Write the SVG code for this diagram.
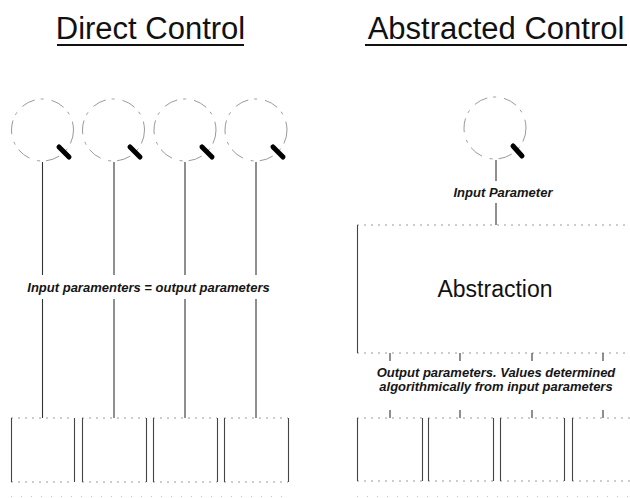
<svg xmlns="http://www.w3.org/2000/svg" width="630" height="498" viewBox="0 0 630 498">
  <defs>
    <style>
      .title { font-family: "Liberation Sans", Arial, sans-serif; font-size: 31px; fill: #111; text-anchor: middle; }
      .label { font-family: "Liberation Sans", Arial, sans-serif; font-size: 13px; font-style: italic; font-weight: bold; fill: #151515; text-anchor: middle; }
      .big { font-family: "Liberation Sans", Arial, sans-serif; font-size: 23px; fill: #111; text-anchor: middle; }
      .ul { stroke: #111; stroke-width: 2; }
      .dial { fill: none; stroke: #9a9a9a; stroke-width: 1; stroke-dasharray: 14 6 3 8; }
      .pointer { stroke: #000; stroke-width: 5; stroke-linecap: round; }
      .wire { stroke: #333; stroke-width: 1.1; fill: none; }
      .side { stroke: #444; stroke-width: 1.1; fill: none; }
      .edge { stroke: #9a9a9a; stroke-width: 1; stroke-dasharray: 2 5; fill: none; }
      .faint { stroke: #c4c4c4; stroke-width: 1; stroke-dasharray: 1 9; fill: none; }
    </style>
  </defs>

  <!-- headings -->
  <g id="title-direct">
    <text class="title" x="150.5" y="39">Direct Control</text>
    <line class="ul" x1="57" y1="45" x2="244" y2="45"/>
  </g>
  <g id="title-abstracted">
    <text class="title" x="496" y="39">Abstracted Control</text>
    <line class="ul" x1="365" y1="45" x2="627" y2="45"/>
  </g>

  <!-- direct control: four dials -->
  <g id="dial-1">
    <circle class="dial" cx="42.5" cy="130" r="31"/>
    <line class="pointer" x1="59" y1="147" x2="69" y2="157"/>
  </g>
  <g id="dial-2">
    <circle class="dial" cx="113.5" cy="130" r="31"/>
    <line class="pointer" x1="130" y1="147" x2="140" y2="157"/>
  </g>
  <g id="dial-3">
    <circle class="dial" cx="185" cy="130" r="31"/>
    <line class="pointer" x1="202" y1="147" x2="212" y2="157"/>
  </g>
  <g id="dial-4">
    <circle class="dial" cx="256" cy="130" r="31"/>
    <line class="pointer" x1="273" y1="147" x2="283" y2="157"/>
  </g>

  <!-- direct control: four outputs -->
  <g id="out-d1">
    <line class="edge" x1="11" y1="418" x2="74" y2="418"/>
    <line class="edge" x1="11" y1="482" x2="74" y2="482"/>
    <line class="side" x1="11.5" y1="418" x2="11.5" y2="482"/>
    <line class="side" x1="74.5" y1="418" x2="74.5" y2="482"/>
  </g>
  <g id="out-d2">
    <line class="edge" x1="82" y1="418" x2="146" y2="418"/>
    <line class="edge" x1="82" y1="482" x2="146" y2="482"/>
    <line class="side" x1="82.5" y1="418" x2="82.5" y2="482"/>
    <line class="side" x1="146.5" y1="418" x2="146.5" y2="482"/>
  </g>
  <g id="out-d3">
    <line class="edge" x1="153" y1="418" x2="217" y2="418"/>
    <line class="edge" x1="153" y1="482" x2="217" y2="482"/>
    <line class="side" x1="153.5" y1="418" x2="153.5" y2="482"/>
    <line class="side" x1="217.5" y1="418" x2="217.5" y2="482"/>
  </g>
  <g id="out-d4">
    <line class="edge" x1="224" y1="418" x2="288" y2="418"/>
    <line class="edge" x1="224" y1="482" x2="288" y2="482"/>
    <line class="side" x1="224.5" y1="418" x2="224.5" y2="482"/>
    <line class="side" x1="288.5" y1="418" x2="288.5" y2="482"/>
  </g>
  <line class="faint" x1="11" y1="496.5" x2="288" y2="496.5"/>

  <!-- abstracted control: single dial -->
  <g id="dial-a">
    <circle class="dial" cx="495" cy="128" r="31"/>
    <line class="pointer" x1="513" y1="146" x2="522" y2="156"/>
  </g>

  <!-- abstraction block -->
  <g id="abstraction">
    <line class="edge" x1="357" y1="225" x2="626" y2="225"/>
    <line class="edge" x1="357" y1="353" x2="626" y2="353"/>
    <line class="side" x1="357.5" y1="225" x2="357.5" y2="353"/>
    <text class="big" x="495" y="297">Abstraction</text>
  </g>

  <!-- abstracted control: four outputs -->
  <g id="out-a1">
    <line class="edge" x1="357" y1="418" x2="422" y2="418"/>
    <line class="edge" x1="357" y1="481" x2="422" y2="481"/>
    <line class="side" x1="357.5" y1="418" x2="357.5" y2="481"/>
    <line class="side" x1="422.5" y1="418" x2="422.5" y2="481"/>
  </g>
  <g id="out-a2">
    <line class="edge" x1="428" y1="418" x2="493" y2="418"/>
    <line class="edge" x1="428" y1="481" x2="493" y2="481"/>
    <line class="side" x1="428.5" y1="418" x2="428.5" y2="481"/>
    <line class="side" x1="493.5" y1="418" x2="493.5" y2="481"/>
  </g>
  <g id="out-a3">
    <line class="edge" x1="500" y1="418" x2="564" y2="418"/>
    <line class="edge" x1="500" y1="481" x2="564" y2="481"/>
    <line class="side" x1="500.5" y1="418" x2="500.5" y2="481"/>
    <line class="side" x1="564.5" y1="418" x2="564.5" y2="481"/>
  </g>
  <g id="out-a4">
    <line class="edge" x1="572" y1="418" x2="630" y2="418"/>
    <line class="edge" x1="572" y1="481" x2="630" y2="481"/>
    <line class="side" x1="572.5" y1="418" x2="572.5" y2="481"/>
  </g>
  <line class="faint" x1="357" y1="496.5" x2="630" y2="496.5"/>

  <!-- connectors -->
  <g id="connectors">
    <line class="wire" x1="42.5" y1="162" x2="42.5" y2="275"/>
    <line class="wire" x1="42.5" y1="299" x2="42.5" y2="418"/>
    <line class="wire" x1="114" y1="162" x2="114" y2="275"/>
    <line class="wire" x1="114" y1="299" x2="114" y2="418"/>
    <line class="wire" x1="185" y1="162" x2="185" y2="275"/>
    <line class="wire" x1="185" y1="299" x2="185" y2="418"/>
    <line class="wire" x1="256" y1="162" x2="256" y2="275"/>
    <line class="wire" x1="256" y1="299" x2="256" y2="418"/>

    <line class="wire" x1="496" y1="160" x2="496" y2="181"/>
    <line class="wire" x1="496" y1="203" x2="496" y2="225"/>

    <line class="wire" x1="390" y1="353" x2="390" y2="361"/>
    <line class="wire" x1="390" y1="410" x2="390" y2="418"/>
    <line class="wire" x1="460" y1="353" x2="460" y2="361"/>
    <line class="wire" x1="460" y1="410" x2="460" y2="418"/>
    <line class="wire" x1="532" y1="353" x2="532" y2="361"/>
    <line class="wire" x1="532" y1="410" x2="532" y2="418"/>
    <line class="wire" x1="603" y1="353" x2="603" y2="361"/>
    <line class="wire" x1="603" y1="410" x2="603" y2="418"/>
  </g>

  <!-- connector labels -->
  <g id="labels">
    <text class="label" x="148.5" y="292">Input paramenters = output parameters</text>
    <text class="label" x="503" y="197">Input Parameter</text>
    <text class="label" x="496" y="377">Output parameters. Values determined</text>
    <text class="label" x="496" y="391">algorithmically from input parameters</text>
  </g>
</svg>
